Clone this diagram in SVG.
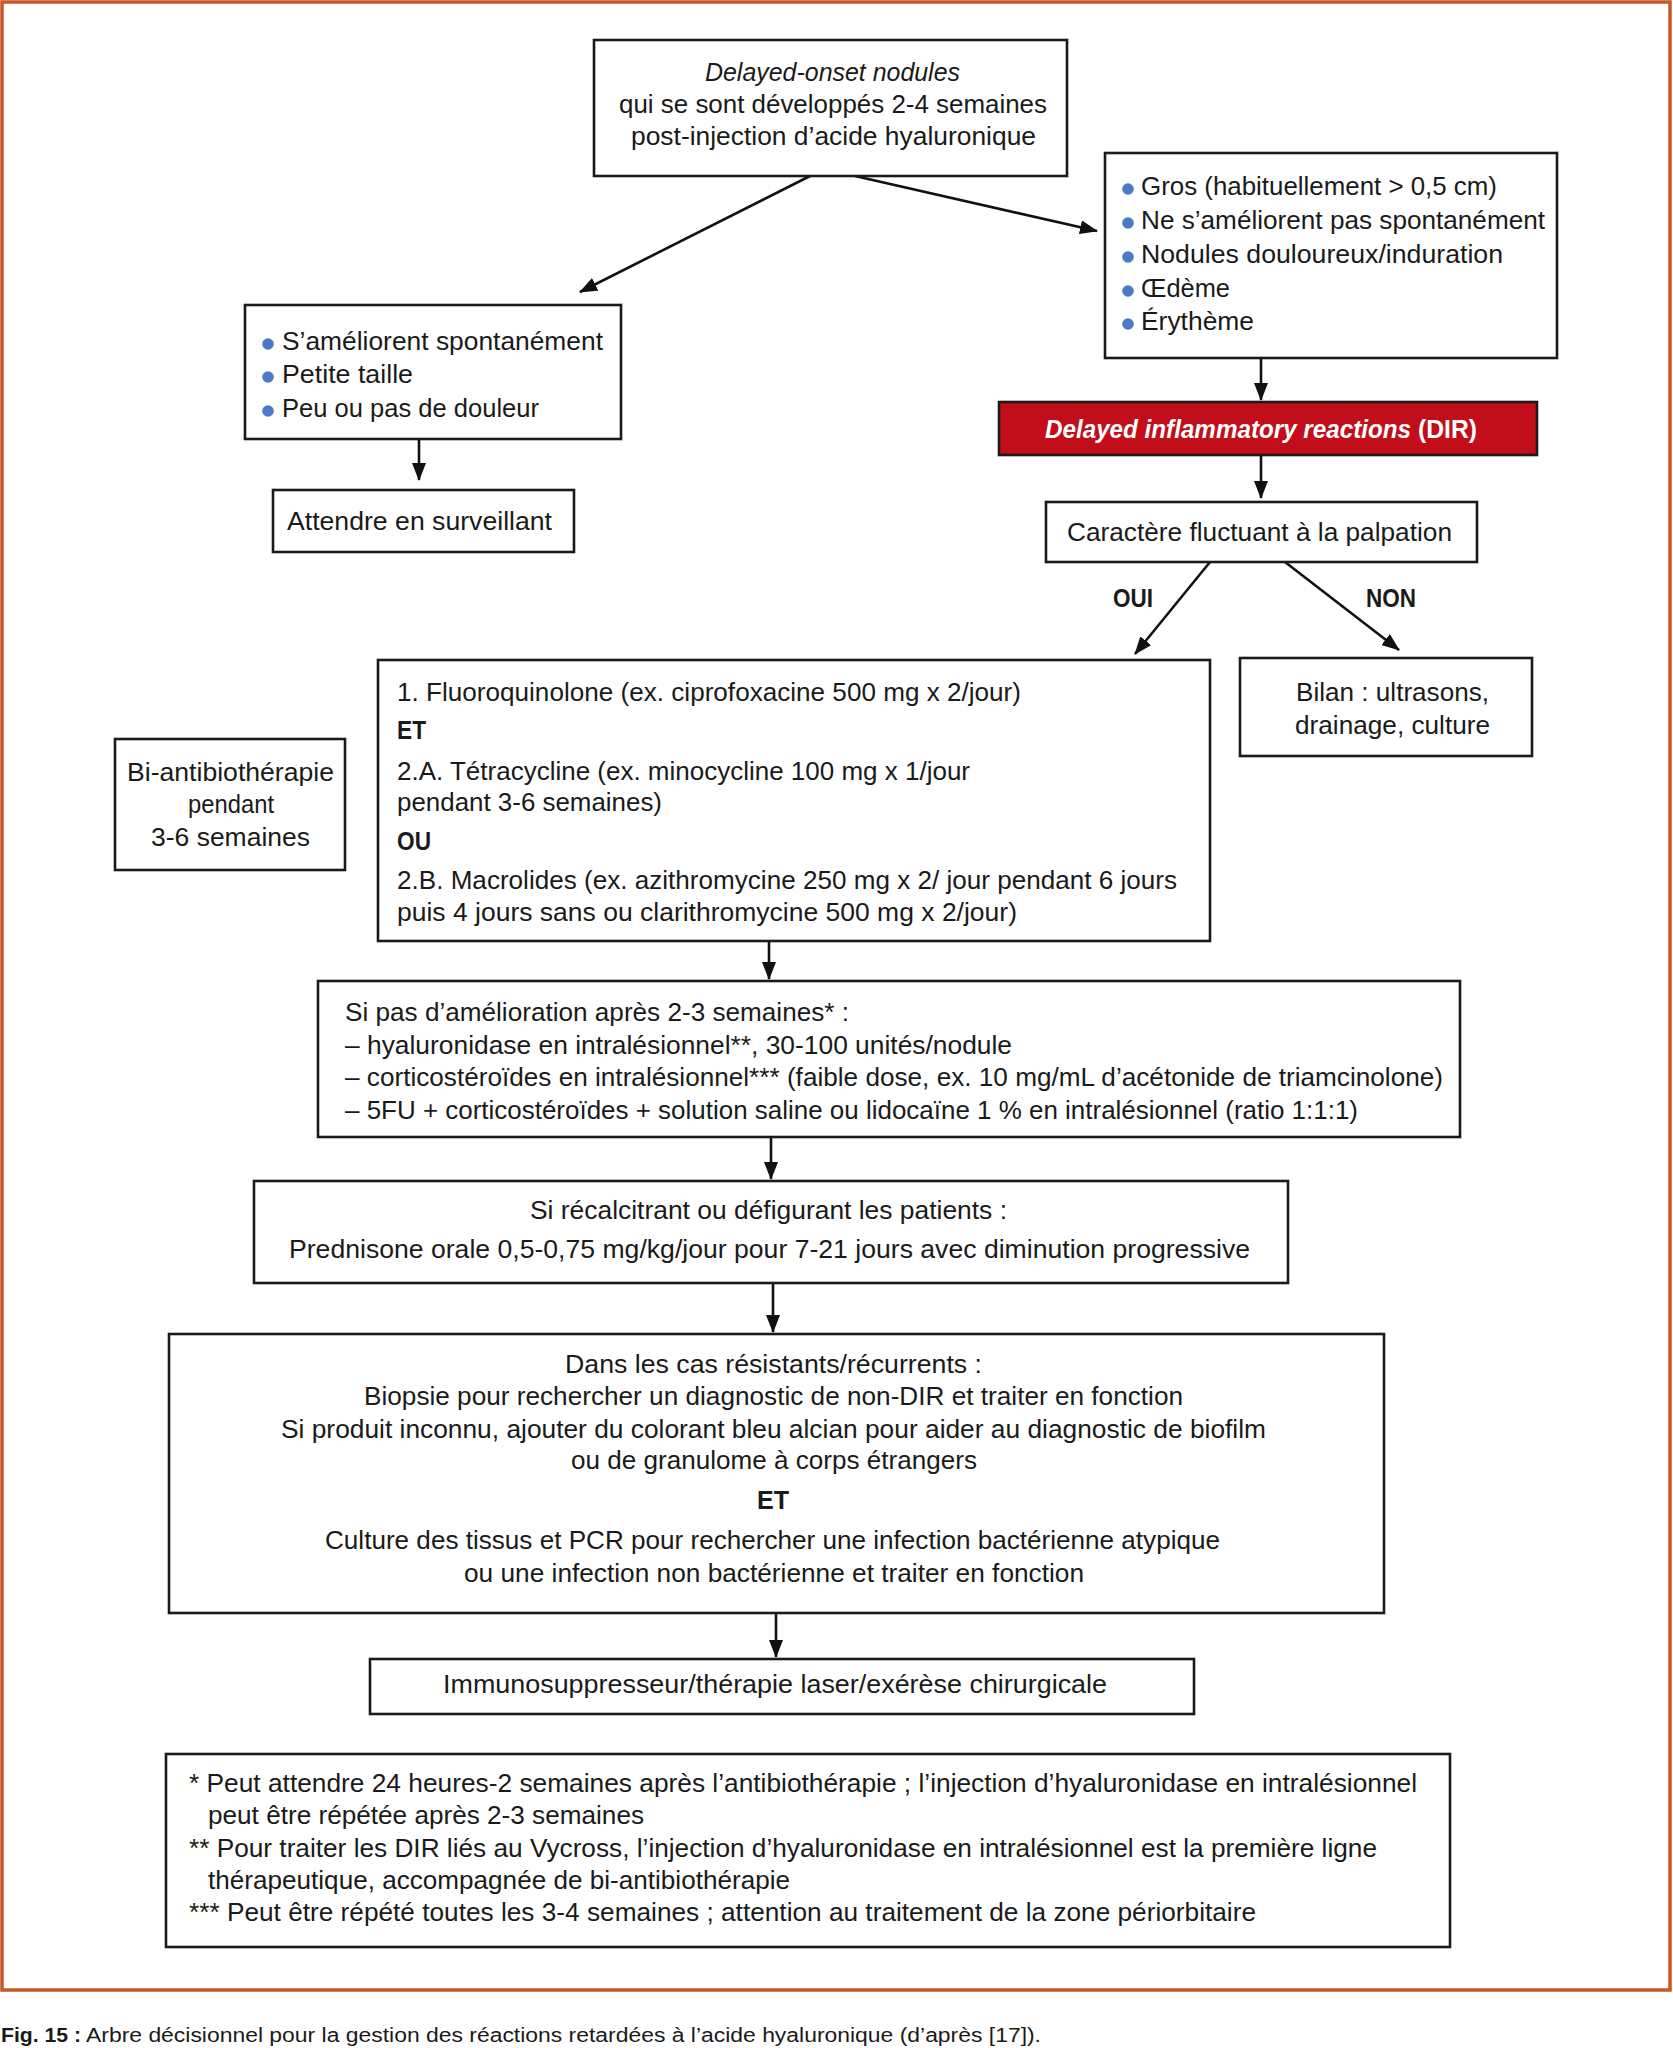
<svg xmlns="http://www.w3.org/2000/svg" width="1673" height="2048" viewBox="0 0 1673 2048">
<defs>
<style>
text{font-family:"Liberation Sans",Arial,sans-serif;font-size:25px;fill:#1a1a1a;}
.box{fill:#fff;stroke:#1a1a1a;stroke-width:2.6;}
.b{font-weight:bold;}
.i{font-style:italic;}
.w{fill:#fff;}
.dot{fill:#4b7bc5;}
.con{stroke:#111;stroke-width:2.6;fill:none;marker-end:url(#ah);}
.cap{font-size:20px;}
</style>
<marker id="ah" markerUnits="userSpaceOnUse" markerWidth="18" markerHeight="14" viewBox="0 0 18 14" refX="17" refY="7" orient="auto">
<path d="M0,0 L18,7 L0,14 Z" fill="#111"/>
</marker>
</defs>
<rect x="0" y="0" width="1673" height="2048" fill="#fff"/>
<rect x="2" y="2" width="1668" height="1988" fill="none" stroke="#c9572b" stroke-width="3.5"/>

<g id="connectors">
<line class="con" x1="810" y1="176" x2="580" y2="292"/>
<line class="con" x1="855" y1="176" x2="1097" y2="231"/>
<line class="con" x1="1261" y1="358" x2="1261" y2="400"/>
<line class="con" x1="1261" y1="455" x2="1261" y2="498"/>
<line class="con" x1="419" y1="439" x2="419" y2="480"/>
<line class="con" x1="1210" y1="562" x2="1135" y2="654"/>
<line class="con" x1="1285" y1="562" x2="1399" y2="650"/>
<line class="con" x1="769" y1="941" x2="769" y2="979"/>
<line class="con" x1="771" y1="1137" x2="771" y2="1179"/>
<line class="con" x1="773" y1="1283" x2="773" y2="1332"/>
<line class="con" x1="776" y1="1613" x2="776" y2="1657"/>
</g>

<g id="n-top">
<rect class="box" x="594" y="40" width="473" height="136"/>
<text class="i" x="705" y="81" textLength="255" lengthAdjust="spacingAndGlyphs">Delayed-onset nodules</text>
<text x="619" y="113" textLength="428" lengthAdjust="spacingAndGlyphs">qui se sont développés 2-4 semaines</text>
<text x="631" y="145" textLength="405" lengthAdjust="spacingAndGlyphs">post-injection d’acide hyaluronique</text>
</g>

<g id="n-right">
<rect class="box" x="1105" y="153" width="452" height="205"/>
<circle class="dot" cx="1128" cy="189" r="5.8"/>
<circle class="dot" cx="1128" cy="223" r="5.8"/>
<circle class="dot" cx="1128" cy="257" r="5.8"/>
<circle class="dot" cx="1128" cy="291" r="5.8"/>
<circle class="dot" cx="1128" cy="324" r="5.8"/>
<text x="1141" y="195" textLength="356" lengthAdjust="spacingAndGlyphs">Gros (habituellement &gt; 0,5 cm)</text>
<text x="1141" y="229" textLength="404" lengthAdjust="spacingAndGlyphs">Ne s’améliorent pas spontanément</text>
<text x="1141" y="263" textLength="362" lengthAdjust="spacingAndGlyphs">Nodules douloureux/induration</text>
<text x="1141" y="297" textLength="89" lengthAdjust="spacingAndGlyphs">Œdème</text>
<text x="1141" y="330" textLength="113" lengthAdjust="spacingAndGlyphs">Érythème</text>
</g>

<g id="n-left">
<rect class="box" x="245" y="305" width="376" height="134"/>
<circle class="dot" cx="268" cy="344" r="5.8"/>
<circle class="dot" cx="268" cy="377" r="5.8"/>
<circle class="dot" cx="268" cy="411" r="5.8"/>
<text x="282" y="350" textLength="321" lengthAdjust="spacingAndGlyphs">S’améliorent spontanément</text>
<text x="282" y="383" textLength="131" lengthAdjust="spacingAndGlyphs">Petite taille</text>
<text x="282" y="417" textLength="257" lengthAdjust="spacingAndGlyphs">Peu ou pas de douleur</text>
</g>

<g id="n-attendre">
<rect class="box" x="273" y="490" width="301" height="62"/>
<text x="287" y="530" textLength="265" lengthAdjust="spacingAndGlyphs">Attendre en surveillant</text>
</g>

<g id="n-dir">
<rect x="999" y="402" width="538" height="53" fill="#c20e1a" stroke="#1a1a1a" stroke-width="2.6"/>
<text class="b i w" x="1045" y="438" textLength="366" lengthAdjust="spacingAndGlyphs">Delayed inflammatory reactions</text>
<text class="b w" x="1418" y="438" textLength="59" lengthAdjust="spacingAndGlyphs">(DIR)</text>
</g>

<g id="n-caractere">
<rect class="box" x="1046" y="502" width="431" height="60"/>
<text x="1067" y="541" textLength="385" lengthAdjust="spacingAndGlyphs">Caractère fluctuant à la palpation</text>
</g>

<g id="labels">
<text class="b" x="1113" y="607" textLength="40" lengthAdjust="spacingAndGlyphs">OUI</text>
<text class="b" x="1366" y="607" textLength="50" lengthAdjust="spacingAndGlyphs">NON</text>
</g>

<g id="n-fluoro">
<rect class="box" x="378" y="660" width="832" height="281"/>
<text x="397" y="701" textLength="624" lengthAdjust="spacingAndGlyphs">1. Fluoroquinolone (ex. ciprofoxacine 500 mg x 2/jour)</text>
<text class="b" x="397" y="739" textLength="29" lengthAdjust="spacingAndGlyphs">ET</text>
<text x="397" y="780" textLength="573" lengthAdjust="spacingAndGlyphs">2.A. Tétracycline (ex. minocycline 100 mg x 1/jour</text>
<text x="397" y="811" textLength="265" lengthAdjust="spacingAndGlyphs">pendant 3-6 semaines)</text>
<text class="b" x="397" y="850" textLength="34" lengthAdjust="spacingAndGlyphs">OU</text>
<text x="397" y="889" textLength="780" lengthAdjust="spacingAndGlyphs">2.B. Macrolides (ex. azithromycine 250 mg x 2/ jour pendant 6 jours</text>
<text x="397" y="921" textLength="620" lengthAdjust="spacingAndGlyphs">puis 4 jours sans ou clarithromycine 500 mg x 2/jour)</text>
</g>

<g id="n-bilan">
<rect class="box" x="1240" y="658" width="292" height="98"/>
<text x="1296" y="701" textLength="193" lengthAdjust="spacingAndGlyphs">Bilan : ultrasons,</text>
<text x="1295" y="734" textLength="195" lengthAdjust="spacingAndGlyphs">drainage, culture</text>
</g>

<g id="n-biantibio">
<rect class="box" x="115" y="739" width="230" height="131"/>
<text x="127" y="781" textLength="207" lengthAdjust="spacingAndGlyphs">Bi-antibiothérapie</text>
<text x="188" y="813" textLength="86" lengthAdjust="spacingAndGlyphs">pendant</text>
<text x="151" y="846" textLength="159" lengthAdjust="spacingAndGlyphs">3-6 semaines</text>
</g>

<g id="n-sipas">
<rect class="box" x="318" y="981" width="1142" height="156"/>
<text x="345" y="1021" textLength="504" lengthAdjust="spacingAndGlyphs">Si pas d’amélioration après 2-3 semaines* :</text>
<text x="345" y="1054" textLength="667" lengthAdjust="spacingAndGlyphs">– hyaluronidase en intralésionnel**, 30-100 unités/nodule</text>
<text x="345" y="1086" textLength="1098" lengthAdjust="spacingAndGlyphs">– corticostéroïdes en intralésionnel*** (faible dose, ex. 10 mg/mL d’acétonide de triamcinolone)</text>
<text x="345" y="1119" textLength="1013" lengthAdjust="spacingAndGlyphs">– 5FU + corticostéroïdes + solution saline ou lidocaïne 1 % en intralésionnel (ratio 1:1:1)</text>
</g>

<g id="n-prednisone">
<rect class="box" x="254" y="1181" width="1034" height="102"/>
<text x="530" y="1219" textLength="477" lengthAdjust="spacingAndGlyphs">Si récalcitrant ou défigurant les patients :</text>
<text x="289" y="1258" textLength="961" lengthAdjust="spacingAndGlyphs">Prednisone orale 0,5-0,75 mg/kg/jour pour 7-21 jours avec diminution progressive</text>
</g>

<g id="n-dans">
<rect class="box" x="169" y="1334" width="1215" height="279"/>
<text x="565" y="1373" textLength="417" lengthAdjust="spacingAndGlyphs">Dans les cas résistants/récurrents :</text>
<text x="364" y="1405" textLength="819" lengthAdjust="spacingAndGlyphs">Biopsie pour rechercher un diagnostic de non-DIR et traiter en fonction</text>
<text x="281" y="1438" textLength="985" lengthAdjust="spacingAndGlyphs">Si produit inconnu, ajouter du colorant bleu alcian pour aider au diagnostic de biofilm</text>
<text x="571" y="1469" textLength="406" lengthAdjust="spacingAndGlyphs">ou de granulome à corps étrangers</text>
<text class="b" x="757" y="1509" textLength="32" lengthAdjust="spacingAndGlyphs">ET</text>
<text x="325" y="1549" textLength="895" lengthAdjust="spacingAndGlyphs">Culture des tissus et PCR pour rechercher une infection bactérienne atypique</text>
<text x="464" y="1582" textLength="620" lengthAdjust="spacingAndGlyphs">ou une infection non bactérienne et traiter en fonction</text>
</g>

<g id="n-immuno">
<rect class="box" x="370" y="1659" width="824" height="55"/>
<text x="443" y="1693" textLength="664" lengthAdjust="spacingAndGlyphs">Immunosuppresseur/thérapie laser/exérèse chirurgicale</text>
</g>

<g id="n-footnotes">
<rect class="box" x="166" y="1754" width="1284" height="193"/>
<text x="189" y="1792" textLength="1228" lengthAdjust="spacingAndGlyphs">* Peut attendre 24 heures-2 semaines après l’antibiothérapie ; l’injection d’hyaluronidase en intralésionnel</text>
<text x="208" y="1824" textLength="436" lengthAdjust="spacingAndGlyphs">peut être répétée après 2-3 semaines</text>
<text x="189" y="1857" textLength="1188" lengthAdjust="spacingAndGlyphs">** Pour traiter les DIR liés au Vycross, l’injection d’hyaluronidase en intralésionnel est la première ligne</text>
<text x="208" y="1889" textLength="582" lengthAdjust="spacingAndGlyphs">thérapeutique, accompagnée de bi-antibiothérapie</text>
<text x="189" y="1921" textLength="1067" lengthAdjust="spacingAndGlyphs">*** Peut être répété toutes les 3-4 semaines ; attention au traitement de la zone périorbitaire</text>
</g>

<g id="caption">
<text class="cap b" x="1" y="2042" textLength="80" lengthAdjust="spacingAndGlyphs">Fig. 15 :</text>
<text class="cap" x="86" y="2042" textLength="955" lengthAdjust="spacingAndGlyphs">Arbre décisionnel pour la gestion des réactions retardées à l’acide hyaluronique (d’après [17]).</text>
</g>
</svg>
